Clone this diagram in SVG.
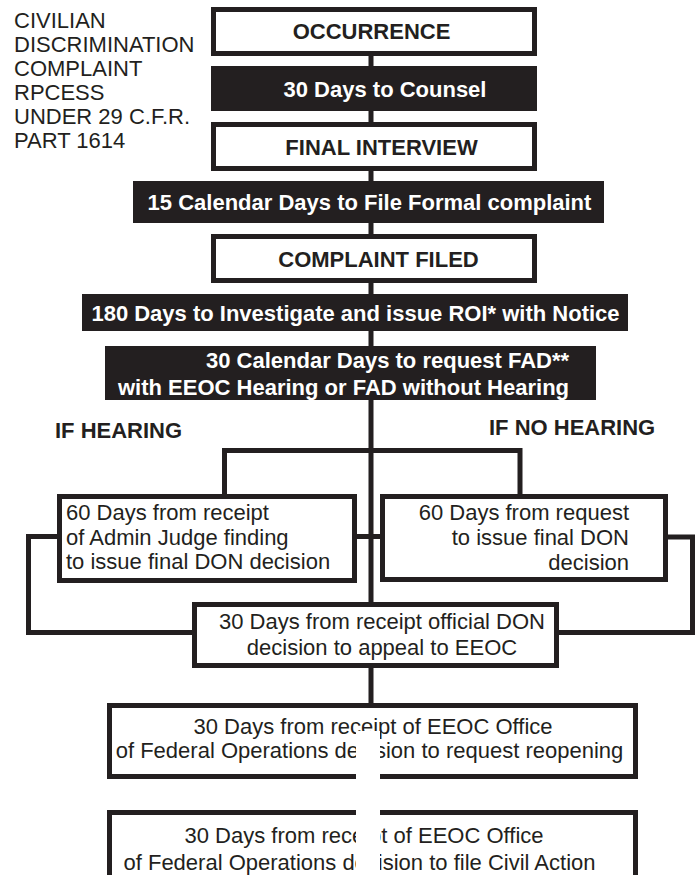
<svg xmlns="http://www.w3.org/2000/svg" width="697" height="875" viewBox="0 0 697 875">
<style>
  .box { fill: #ffffff; stroke: #231f20; stroke-width: 5; }
  .blk { fill: #231f20; }
  .ln { fill: none; stroke: #231f20; stroke-width: 5; stroke-linecap: square; }
  .b { font-family: "Liberation Sans", Arial, sans-serif; font-weight: bold; font-size: 22px; fill: #231f20; }
  .bw { font-family: "Liberation Sans", Arial, sans-serif; font-weight: bold; font-size: 22px; fill: #ffffff; }
  .r { font-family: "Liberation Sans", Arial, sans-serif; font-size: 22px; fill: #231f20; }
</style>
<rect width="697" height="875" fill="#ffffff"/>
<g id="connectors">
  <path class="ln" d="M371,56 V602"/>
  <path class="ln" d="M371,668 V810"/>
  <path class="ln" d="M224.5,450.5 H520 M224.5,450.5 V494 M520,450.5 V494"/>
  <path class="ln" d="M357,536.5 H380"/>
  <path class="ln" d="M57,536.5 H28.5 V632.5 H192"/>
  <path class="ln" d="M668,537 H692.5 V632.5 H559"/>
</g>
<g id="title">
  <text class="r" x="14" y="28">CIVILIAN</text>
  <text class="r" x="14" y="52">DISCRIMINATION</text>
  <text class="r" x="14" y="76">COMPLAINT</text>
  <text class="r" x="14" y="100">RPCESS</text>
  <text class="r" x="14" y="124">UNDER 29 C.F.R.</text>
  <text class="r" x="14" y="148">PART 1614</text>
</g>
<g id="occurrence">
  <rect class="box" x="213.5" y="9.5" width="321" height="44"/>
  <text class="b" x="371.5" y="39" text-anchor="middle">OCCURRENCE</text>
</g>
<g id="counsel">
  <rect class="blk" x="211" y="66" width="326" height="45"/>
  <text class="bw" x="385" y="96.5" text-anchor="middle">30 Days to Counsel</text>
</g>
<g id="final-interview">
  <rect class="box" x="213.5" y="124.5" width="321" height="44"/>
  <text class="b" x="381.5" y="154.5" text-anchor="middle">FINAL INTERVIEW</text>
</g>
<g id="file-formal">
  <rect class="blk" x="133" y="181" width="471" height="42"/>
  <text class="bw" x="369.5" y="209.5" text-anchor="middle">15 Calendar Days to File Formal complaint</text>
</g>
<g id="complaint-filed">
  <rect class="box" x="213.5" y="236.5" width="321" height="44"/>
  <text class="b" x="378.5" y="266.5" text-anchor="middle">COMPLAINT FILED</text>
</g>
<g id="investigate">
  <rect class="blk" x="82" y="294" width="546" height="37"/>
  <text class="bw" x="355.5" y="320.5" text-anchor="middle">180 Days to Investigate and issue ROI* with Notice</text>
</g>
<g id="request-fad">
  <rect class="blk" x="105" y="346" width="491" height="54"/>
  <text class="bw" x="206" y="367.5">30 Calendar Days to request FAD**</text>
  <text class="bw" x="118" y="395">with EEOC Hearing or FAD without Hearing</text>
</g>
<g id="labels">
  <text class="b" x="55" y="438">IF HEARING</text>
  <text class="b" x="489" y="435">IF NO HEARING</text>
</g>
<g id="hearing-box">
  <rect class="box" x="59.5" y="496.5" width="295" height="84"/>
  <text class="r" x="66" y="520">60 Days from receipt</text>
  <text class="r" x="66" y="545">of Admin Judge finding</text>
  <text class="r" x="66" y="569">to issue final DON decision</text>
</g>
<g id="no-hearing-box">
  <rect class="box" x="382.5" y="496.5" width="283" height="83"/>
  <text class="r" x="629" y="520" text-anchor="end">60 Days from request</text>
  <text class="r" x="629" y="545" text-anchor="end">to issue final DON</text>
  <text class="r" x="629" y="570" text-anchor="end">decision</text>
</g>
<g id="appeal-box">
  <rect class="box" x="194.5" y="604.5" width="362" height="61"/>
  <text class="r" x="382" y="629" text-anchor="middle">30 Days from receipt official DON</text>
  <text class="r" x="382" y="655" text-anchor="middle">decision to appeal to EEOC</text>
</g>
<g id="reopening-box">
  <rect class="box" x="109.5" y="705.5" width="526" height="71"/>
  <text class="r" x="373" y="734" text-anchor="middle">30 Days from receipt of EEOC Office</text>
  <text class="r" x="369.5" y="758" text-anchor="middle">of Federal Operations decision to request reopening</text>
</g>
<g id="civil-action-box">
  <rect class="box" x="109.5" y="812.5" width="526" height="100"/>
  <text class="r" x="364" y="843" text-anchor="middle">30 Days from receipt of EEOC Office</text>
  <text class="r" x="359.5" y="870" text-anchor="middle">of Federal Operations decision to file Civil Action</text>
</g>
<rect x="356" y="731" width="24" height="144" fill="#ffffff"/>
</svg>
